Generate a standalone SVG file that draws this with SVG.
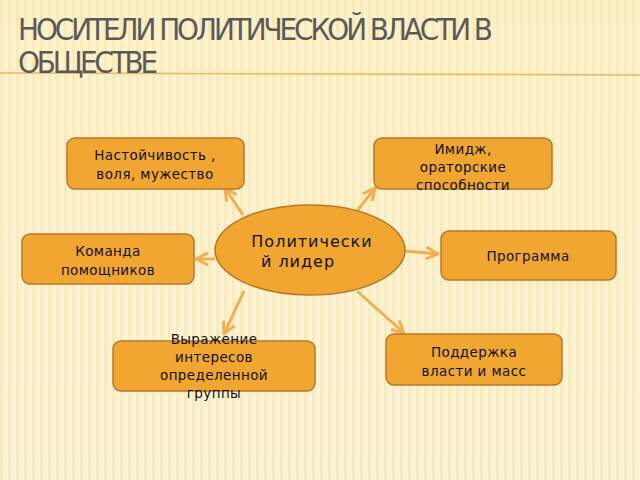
<svg xmlns="http://www.w3.org/2000/svg" width="640" height="480" viewBox="0 0 640 480">
<defs>
<linearGradient id="bg" x1="0" y1="0" x2="0" y2="1"><stop offset="0" stop-color="#fdf1c6"/><stop offset="1" stop-color="#fbf3d8"/></linearGradient>
<pattern id="st" width="8" height="8" patternUnits="userSpaceOnUse"><rect x="0" width="3" height="8" fill="#f6e6b4" opacity="0.6"/></pattern>
<marker id="ah" viewBox="0 0 10 10" refX="9" refY="5" markerWidth="5" markerHeight="5" orient="auto"><path d="M1,1 L9,5 L1,9" fill="none" stroke="#f0b050" stroke-width="2"/></marker>
</defs>
<style>
.box{fill:#f0a630;stroke:#b8782a;stroke-width:1.5}
.t{font-family:"DejaVu Sans",sans-serif;font-size:13.5px;letter-spacing:0.4px;fill:#111;text-anchor:middle}
.big{font-size:16px;letter-spacing:1px}
.c line{stroke:#f0b050;stroke-width:3;marker-end:url(#ah)}
</style>
<rect width="640" height="480" fill="url(#bg)"/>
<rect width="640" height="480" fill="url(#st)"/>
<line x1="0" y1="73" x2="640" y2="75" stroke="#e8b860" stroke-width="1.5"/>
<text x="18" y="40" font-family="DejaVu Sans Condensed,DejaVu Sans,sans-serif" font-stretch="condensed" font-size="31" fill="#5a5a5a" textLength="475">НОСИТЕЛИ ПОЛИТИЧЕСКОЙ ВЛАСТИ В</text>
<text x="18" y="73" font-family="DejaVu Sans Condensed,DejaVu Sans,sans-serif" font-stretch="condensed" font-size="31" fill="#5a5a5a" textLength="140">ОБЩЕСТВЕ</text>
<g class="c">
<line x1="243" y1="215" x2="225" y2="188"/>
<line x1="357" y1="211" x2="375" y2="188"/>
<line x1="215" y1="259" x2="196" y2="259"/>
<line x1="405" y1="251" x2="438" y2="254"/>
<line x1="244" y1="291" x2="224" y2="334"/>
<line x1="357" y1="291" x2="404" y2="333"/>
</g>
<g id="center"><ellipse cx="310" cy="250" rx="95" ry="45" fill="#f0a630" stroke="#b8782a" stroke-width="1.5"/>
<text class="t big" x="312" y="247">Политически</text><text class="t big" x="298" y="267">й лидер</text></g>
<g id="n1"><rect class="box" x="67" y="138" width="177" height="51" rx="8"/><text class="t" x="155" y="160">Настойчивость ,</text><text class="t" x="155" y="179">воля, мужество</text></g>
<g id="n2"><rect class="box" x="374" y="138" width="178" height="51" rx="8"/><text class="t" x="463" y="154">Имидж,</text><text class="t" x="463" y="172">ораторские</text><text class="t" x="463" y="190">способности</text></g>
<g id="n3"><rect class="box" x="22" y="234" width="172" height="50" rx="8"/><text class="t" x="108" y="256">Команда</text><text class="t" x="108" y="275">помощников</text></g>
<g id="n4"><rect class="box" x="441" y="231" width="175" height="49" rx="8"/><text class="t" x="528" y="261">Программа</text></g>
<g id="n5"><rect class="box" x="113" y="341" width="202" height="50" rx="8"/><text class="t" x="214" y="344">Выражение</text><text class="t" x="214" y="362">интересов</text><text class="t" x="214" y="380">определенной</text><text class="t" x="214" y="398">группы</text></g>
<g id="n6"><rect class="box" x="386" y="334" width="176" height="51" rx="8"/><text class="t" x="474" y="357">Поддержка</text><text class="t" x="474" y="376">власти и масс</text></g>
</svg>
